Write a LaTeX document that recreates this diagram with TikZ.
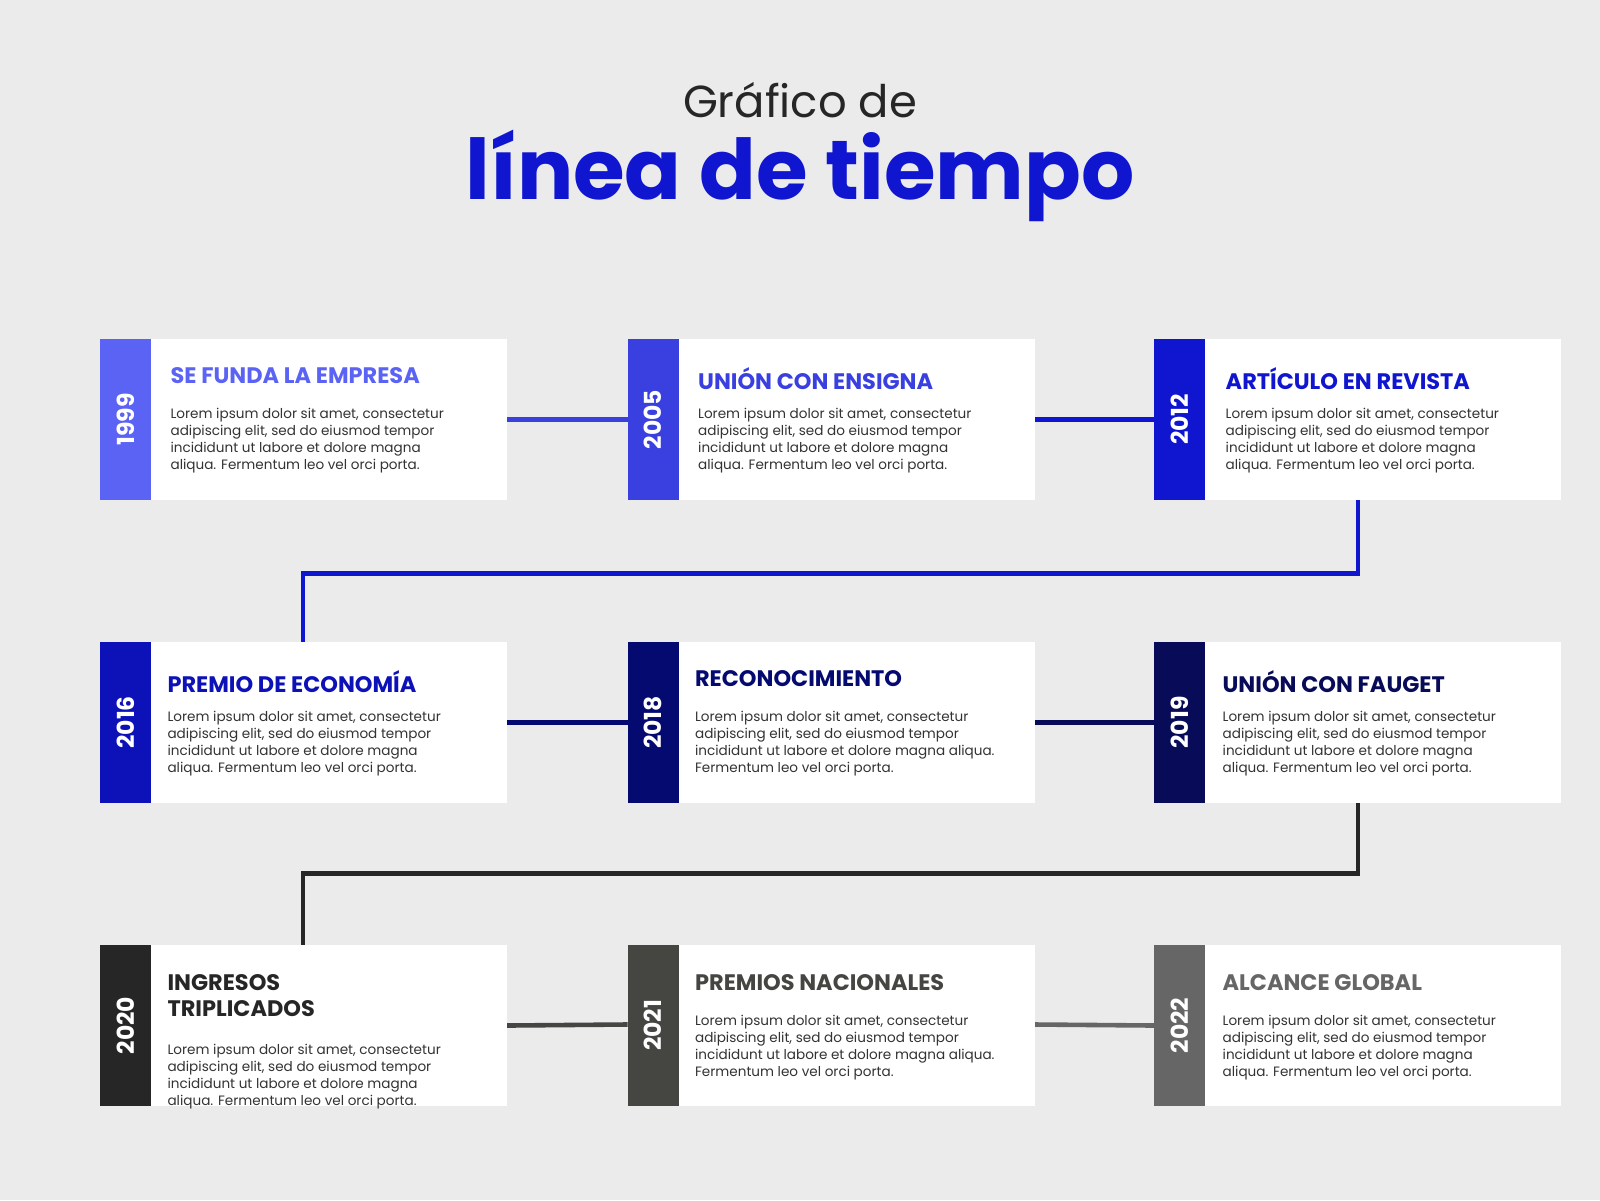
\documentclass[tikz,border=0pt]{standalone}
\usepackage{fontspec}
\setmainfont{Poppins}
\begin{document}
\begin{tikzpicture}[x=1pt,y=-1pt,
  card/.style={fill=white,draw=none},
  head/.style={anchor=north west,inner sep=0pt,font=\fontsize{22}{25}\selectfont\bfseries,align=left},
  body/.style={anchor=north west,inner sep=0pt,font=\fontsize{13.3}{16.7}\selectfont,text=black!80,align=left},
  yr/.style={rotate=90,font=\fontsize{23}{25}\selectfont\bfseries,text=white,inner sep=0pt},
  conn/.style={line width=4.5pt}]
\fill[gray!15!white] (0,0) rectangle (1568,1176);
\definecolor{bgc}{HTML}{EBEBEB}
\fill[bgc] (0,0) rectangle (1568,1176);
\definecolor{c1}{HTML}{5B63F5}\definecolor{c2}{HTML}{3A3FE0}\definecolor{c3}{HTML}{1016D0}
\definecolor{c4}{HTML}{0C12B8}\definecolor{c5}{HTML}{050A70}\definecolor{c6}{HTML}{070B58}
\definecolor{c7}{HTML}{262626}\definecolor{c8}{HTML}{454541}\definecolor{c9}{HTML}{666666}
\definecolor{tblue}{HTML}{1016D0}
\node[font=\fontsize{44}{48}\selectfont,text=black!85] (t1) at (784,98) {Gráfico de};
\node[font=\fontsize{82}{90}\selectfont\bfseries,text=tblue] (t2) at (784,172) {línea de tiempo};
% connectors
\coordinate (a1) at (1331,490); \coordinate (a2) at (1331,562); \coordinate (a3) at (297,562); \coordinate (a4) at (297,629);
\coordinate (b1) at (1331,787); \coordinate (b2) at (1331,856); \coordinate (b3) at (297,856); \coordinate (b4) at (297,926);
\draw[conn,c3] (a1)--(a2)--(a3)--(a4);
\draw[conn,c7] (b1)--(b2)--(b3)--(b4);
\draw[conn,c2] (497,411)--(615,411);
\draw[conn,c3] (1013,411)--(1131,411);
\draw[conn,c5] (497,708)--(615,708);
\draw[conn,c6] (1013,708)--(1131,708);
\draw[conn,c8] (497,1005)--(615,1004);
\draw[conn,c9] (1013,1004)--(1131,1005);
% cards
\newcommand\mycard[7]{% x,y,color,year,heading,body,name
  \fill[card] (#1,#2) rectangle ++(399,158);
  \fill[#3] (#1,#2) rectangle ++(50,158);
  \node[yr] (#7y) at (#1+25,#2+79) {#4};
}
\mycard{98}{332}{c1}{1999}{}{}{n1}
\mycard{615}{332}{c2}{2005}{}{}{n2}
\mycard{1131}{332}{c3}{2012}{}{}{n3}
\mycard{98}{629}{c4}{2016}{}{}{n4}
\mycard{615}{629}{c5}{2018}{}{}{n5}
\mycard{1131}{629}{c6}{2019}{}{}{n6}
\mycard{98}{926}{c7}{2020}{}{}{n7}
\mycard{615}{926}{c8}{2021}{}{}{n8}
\mycard{1131}{926}{c9}{2022}{}{}{n9}
\def\lA{Lorem ipsum dolor sit amet, consectetur\\adipiscing elit, sed do eiusmod tempor\\incididunt ut labore et dolore magna\\aliqua. Fermentum leo vel orci porta.}
\def\lB{Lorem ipsum dolor sit amet, consectetur\\adipiscing elit, sed do eiusmod tempor\\incididunt ut labore et dolore magna aliqua.\\Fermentum leo vel orci porta.}
\node[head,text=c1] (h1) at (167,360) {SE FUNDA LA EMPRESA};
\node[body] (d1) at (167,400) {\lA};
\node[head,text=c2] (h2) at (684,360) {UNIÓN CON ENSIGNA};
\node[body] (d2) at (684,400) {\lA};
\node[head,text=c3] (h3) at (1201,360) {ARTÍCULO EN REVISTA};
\node[body] (d3) at (1201,400) {\lA};
\node[head,text=c4] (h4) at (164,657) {PREMIO DE ECONOMÍA};
\node[body] (d4) at (164,697) {\lA};
\node[head,text=c5] (h5) at (681,657) {RECONOCIMIENTO};
\node[body] (d5) at (681,697) {\lB};
\node[head,text=c6] (h6) at (1198,657) {UNIÓN CON FAUGET};
\node[body] (d6) at (1198,697) {\lA};
\node[head,text=c7] (h7) at (164,955) {INGRESOS\\TRIPLICADOS};
\node[body] (d7) at (164,1023) {\lA};
\node[head,text=c8] (h8) at (681,955) {PREMIOS NACIONALES};
\node[body] (d8) at (681,995) {\lB};
\node[head,text=c9] (h9) at (1198,955) {ALCANCE GLOBAL};
\node[body] (d9) at (1198,995) {\lA};
\end{tikzpicture}
\end{document}
